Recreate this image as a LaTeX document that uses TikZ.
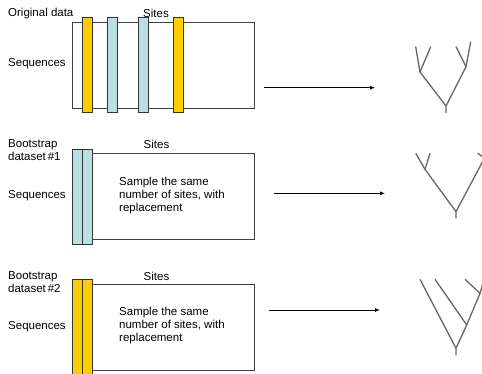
\documentclass[tikz,border=0pt]{standalone}
\usepackage{fontspec}
\setmainfont{Liberation Sans}
\usetikzlibrary{arrows.meta}
\begin{document}
\begin{tikzpicture}[x=1pt,y=-1pt]

  \tikzstyle{table} = [draw=black!75, line width=0.9]
  \tikzstyle{site} = [draw=black!80, line width=0.8]
  \tikzstyle{lbl} = [anchor=west, inner sep=0, font=\fontsize{11.5}{13}\selectfont]
  \tikzstyle{branch} = [draw=black!60, line width=1.3, line join=round]
  \tikzstyle{arrow} = [line width=0.8, -{Latex[length=5,width=4]}]

  \definecolor{yellow}{HTML}{FFCC00}
  \definecolor{blue}{HTML}{B9DFE0}

  \useasboundingbox (0,0) rectangle (482,374);
  \clip (0,0) rectangle (482,374);

  % original data
  \node[lbl] (orig) at (8,13.5) {Original data};
  \node[lbl] (sites1) at (143,13.5) {Sites};
  \node[lbl] (seq1) at (8,63.5) {Sequences};
  \draw[table] (72.5,22) rectangle (254,108);
  \foreach \x/\c in {82.5/yellow, 107.5/blue, 138/blue, 173.5/yellow}
    \draw[site, fill=\c] (\x,17) rectangle ++(10,95.5);

  % bootstrap 1
  \node[lbl, align=left] (boot1) at (8,150.5) {Bootstrap\\dataset\,\#1};
  \node[lbl] (sites2) at (143.5,144.5) {Sites};
  \node[lbl] (seq2) at (8,195.5) {Sequences};
  \draw[table] (72.5,153.3) rectangle (254,239.3);
  \foreach \x in {72.7, 82.7}
    \draw[site, fill=blue] (\x,149.3) rectangle ++(10,94.7);
  \node[lbl, align=left] (samp1) at (119,195.5) {Sample the same\\number of sites, with\\replacement};

  % bootstrap 2
  \node[lbl, align=left] (boot2) at (8,282.5) {Bootstrap\\dataset\,\#2};
  \node[lbl] (sites3) at (143.5,276.5) {Sites};
  \node[lbl] (seq3) at (8,326.5) {Sequences};
  \draw[table] (72.5,284.3) rectangle (254,370);
  \foreach \x in {72.7, 82.7}
    \draw[site, fill=yellow] (\x,279.3) rectangle ++(10,100);
  \node[lbl, align=left] (samp2) at (119,326) {Sample the same\\number of sites, with\\replacement};

  % arrows
  \coordinate (a1s) at (264,87.7);   \coordinate (a1e) at (375,87.7);
  \coordinate (a2s) at (274,193.3);  \coordinate (a2e) at (385,193.3);
  \coordinate (a3s) at (269.3,310);  \coordinate (a3e) at (380,310);
  \draw[arrow] (a1s) -- (a1e);
  \draw[arrow] (a2s) -- (a2e);
  \draw[arrow] (a3s) -- (a3e);

  % tree 1
  \coordinate (r1) at (446,113);
  \coordinate (j1) at (446,106);
  \coordinate (l1) at (420,72);
  \coordinate (m1) at (466,66.7);
  \draw[branch] (r1) -- (j1) -- (l1) -- (415.7,46.7);
  \draw[branch] (l1) -- (430.7,46.7);
  \draw[branch] (j1) -- (m1) -- (456,46.7);
  \draw[branch] (m1) -- (470.7,41.7);

  % tree 2
  \coordinate (r2) at (456,218.3);
  \coordinate (j2) at (456,211.7);
  \coordinate (l2) at (425,169.3);
  \coordinate (m2) at (484.5,158);
  \draw[branch] (r2) -- (j2) -- (l2) -- (415.7,153.3);
  \draw[branch] (l2) -- (430,153.3);
  \draw[branch] (j2) -- (m2) -- (477.7,153.3);
  \draw[branch] (m2) -- (492,140);

  % tree 3
  \coordinate (r3) at (456,355);
  \coordinate (j3) at (456,348.3);
  \coordinate (k3) at (466.7,325);
  \coordinate (n3) at (480,293.3);
  \draw[branch] (r3) -- (j3) -- (420,279.3);
  \draw[branch] (j3) -- (k3) -- (n3) -- (487,270);
  \draw[branch] (k3) -- (435,279.3);
  \draw[branch] (n3) -- (465,279.3);

\end{tikzpicture}
\end{document}
